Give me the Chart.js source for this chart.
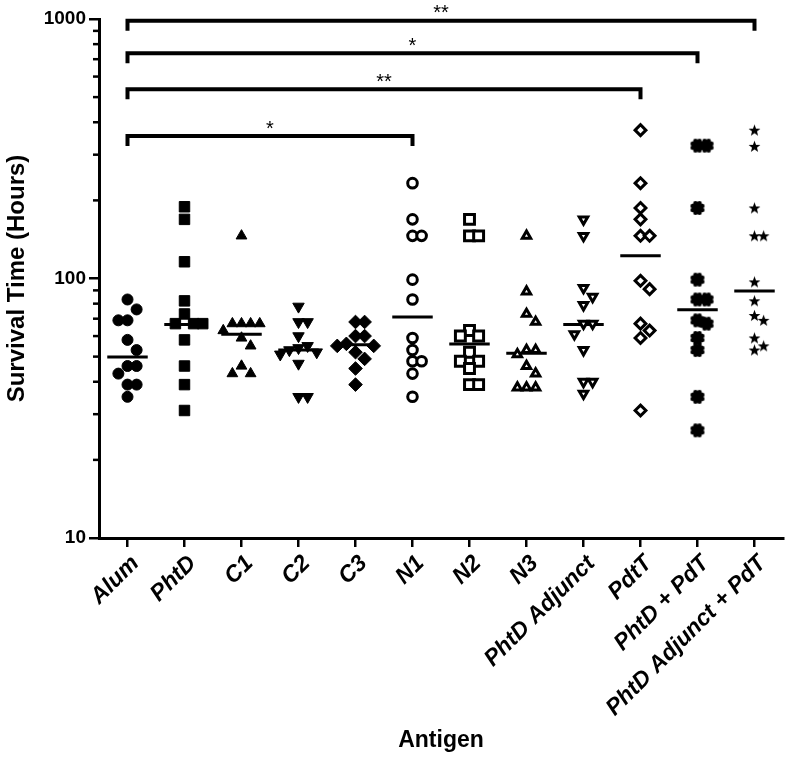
<!DOCTYPE html>
<html><head><meta charset="utf-8">
<script src="https://cdn.jsdelivr.net/npm/chart.js@4"></script>
<style>html,body{margin:0;padding:0;background:#fff;}</style>
</head><body>
<canvas id="c" width="793" height="758" style="display:block;width:793px;height:758px"></canvas>
<script>
const categories = ['Alum','PhtD','C1','C2','C3','N1','N2','N3','PhtD Adjunct','PdtT','PhtD + PdT','PhtD Adjunct + PdT'];

const alum      = [83, 76, 69, 69, 58, 53, 46, 46, 43, 39, 39, 35];
const phtD      = [189, 169, 116, 82, 73, 67, 67, 67, 58, 46, 39, 31];
const c1        = [146, 67, 67, 67, 67, 63, 59, 55, 46, 43, 43];
const c2        = [78, 68, 68, 60, 55, 54, 53, 52, 51, 47, 35, 35];
const c3        = [68, 68, 60, 60, 56, 55, 55, 52, 49, 45, 39];
const n1        = [233, 169, 146, 146, 99, 83, 59, 53, 48, 48, 43, 35];
const n2        = [169, 146, 146, 63, 60, 60, 52, 48, 48, 45, 39, 39];
const n3        = [146, 89, 73, 68, 53, 53, 51, 46, 43, 38, 38, 38];
const phtDAdj   = [169, 146, 92, 85, 79, 67, 67, 61, 53, 40, 40, 36];
const pdtT      = [373, 233, 187, 169, 146, 146, 98, 91, 67, 63, 59, 31];
const phtDPdT   = [325, 325, 187, 99, 83, 83, 69, 67, 59, 53, 35, 26];
const phtDAdjPdT= [373, 323, 187, 146, 146, 97, 82, 72, 69, 59, 55, 53];

const medians = [49.8, 66.5, 61, 53, 55.6, 71, 55.9, 51.5, 66.5, 122.5, 75.7, 89.6];

const yTickLabels = [10, 100, 1000];
const yMinorTicks = [20, 30, 40, 50, 60, 70, 80, 90, 200, 300, 400, 500, 600, 700, 800, 900];

const bracketTargets = ['N1', 'PdtT', 'PhtD + PdT', 'PhtD Adjunct + PdT'];
const bracketLevels  = [354, 536, 738, 985];
const bracketLabels  = ['*', '**', '*', '**'];

const groups = [alum, phtD, c1, c2, c3, n1, n2, n3, phtDAdj, pdtT, phtDPdT, phtDAdjPdT];

// ---- custom markers ----
function makeBurst() {
  const cv = document.createElement('canvas'); cv.width = 16; cv.height = 16;
  const g = cv.getContext('2d'); g.fillStyle = '#000';
  g.beginPath(); g.arc(8, 8, 4.2, 0, Math.PI * 2); g.fill();
  for (let i = 0; i < 8; i++) {
    const a = i * Math.PI / 4 + Math.PI / 8;
    g.beginPath(); g.arc(8 + Math.cos(a) * 5.2, 8 + Math.sin(a) * 5.2, 2.3, 0, Math.PI * 2); g.fill();
  }
  return cv;
}
function makeStar() {
  const cv = document.createElement('canvas'); cv.width = 13; cv.height = 13;
  const g = cv.getContext('2d'); g.fillStyle = '#000'; g.beginPath();
  for (let i = 0; i < 10; i++) {
    const r = i % 2 === 0 ? 6.2 : 2.6;
    const a = -Math.PI / 2 + i * Math.PI / 5;
    const px = 6.5 + Math.cos(a) * r, py = 7 + Math.sin(a) * r;
    if (i === 0) g.moveTo(px, py); else g.lineTo(px, py);
  }
  g.closePath(); g.fill();
  return cv;
}
const burst = makeBurst();
const star = makeStar();

const styles = [
  {ps: 'circle',   r: 5.5, fill: true},
  {ps: 'rect',     r: 7.4, fill: true},
  {ps: 'triangle', r: 6.2, fill: true},
  {ps: 'triangle', r: 6.6, fill: true, rot: 180},
  {ps: 'rectRot',  r: 6.8, fill: true},
  {ps: 'circle',   r: 4.8, fill: false},
  {ps: 'rect',     r: 7.0, fill: false},
  {ps: 'triangle', r: 4.8, fill: false},
  {ps: 'triangle', r: 4.9, fill: false, rot: 180},
  {ps: 'rectRot',  r: 5.4, fill: false},
  {ps: burst,      r: 8,   fill: true, img: true},
  {ps: star,       r: 6,   fill: true, img: true}
];

// simple column-scatter (beeswarm) spreading of overlapping points
const SLOT = 0.16, THR = 0.043;
function swarm(values, idx) {
  const sorted = values.slice().sort((a, b) => b - a);
  const placed = [];
  const order = [0, 1, -1, 2, -2, 3, -3];
  return sorted.map(v => {
    const lv = Math.log10(v);
    const k = order.find(s => !placed.some(p => p.k === s && Math.abs(p.lv - lv) < THR));
    placed.push({k, lv});
    return {x: idx + k * SLOT, y: v};
  });
}

const datasets = groups.map((vals, i) => {
  const s = styles[i];
  return {
    type: 'scatter',
    data: swarm(vals, i),
    pointStyle: s.ps,
    pointRadius: s.r,
    pointRotation: s.rot || 0,
    pointBackgroundColor: s.fill ? '#000' : '#fff',
    pointBorderColor: '#000',
    pointBorderWidth: s.img ? 0 : (s.fill ? 1 : 3),
    order: 0
  };
});

const medianData = [];
medians.forEach((m, i) => {
  medianData.push({x: i - 0.355, y: m}, {x: i + 0.355, y: m}, {x: i + 0.4, y: null});
});
datasets.push({
  type: 'line', data: medianData, showLine: true, spanGaps: false,
  borderColor: '#000', borderWidth: 3, pointRadius: 0, fill: false, order: 1
});

const FONT = "'Liberation Sans', Arial, sans-serif";

const extras = {
  id: 'extras',
  afterDatasetsDraw(chart) {
    const {ctx, chartArea} = chart;
    const x = chart.scales.x, y = chart.scales.y;
    ctx.save();
    ctx.strokeStyle = '#000'; ctx.fillStyle = '#000';
    ctx.lineWidth = 2.5;
    yMinorTicks.forEach(v => {
      const py = y.getPixelForValue(v);
      ctx.beginPath(); ctx.moveTo(chartArea.left - 6, py); ctx.lineTo(chartArea.left, py); ctx.stroke();
    });
    ctx.lineWidth = 4; ctx.lineJoin = 'miter';
    const x0 = x.getPixelForValue(0);
    bracketTargets.forEach((t, i) => {
      const x1 = x.getPixelForValue(categories.indexOf(t));
      const py = y.getPixelForValue(bracketLevels[i]);
      ctx.beginPath();
      ctx.moveTo(x0, py + 10); ctx.lineTo(x0, py); ctx.lineTo(x1, py); ctx.lineTo(x1, py + 10);
      ctx.stroke();
      ctx.font = '20px ' + FONT; ctx.textAlign = 'center'; ctx.textBaseline = 'bottom';
      ctx.fillText(bracketLabels[i], (x0 + x1) / 2, py + 3);
    });
    ctx.restore();
  }
};

new Chart(document.getElementById('c'), {
  type: 'scatter',
  data: {datasets},
  plugins: [extras],
  options: {
    responsive: false, animation: false, devicePixelRatio: 1,
    layout: {padding: {top: 19, right: 2, bottom: 0, left: 0}},
    plugins: {legend: {display: false}, tooltip: {enabled: false}},
    scales: {
      x: {
        type: 'linear', min: -0.5, max: 11.5,
        afterBuildTicks: s => { s.ticks = categories.map((c, i) => ({value: i})); },
        afterFit: s => { s.height = 220; },
        ticks: {
          autoSkip: false, maxRotation: 45, minRotation: 45, padding: 3, labelOffset: 8, color: '#000',
          font: {family: FONT, size: 23, weight: 'bold', style: 'italic'},
          callback: v => categories[v]
        },
        grid: {drawOnChartArea: false, drawTicks: true, tickLength: 9, tickWidth: 2.5, tickColor: '#000', color: '#000', lineWidth: 2.5},
        border: {display: true, color: '#000', width: 3},
        title: {display: true, text: 'Antigen', color: '#000', font: {family: FONT, size: 23, weight: 'bold'}, padding: {top: 0, bottom: 4}}
      },
      y: {
        type: 'logarithmic', min: 10, max: 1000,
        afterBuildTicks: s => { s.ticks = yTickLabels.map(v => ({value: v})); },
        afterFit: s => { s.width = 99; },
        ticks: {
          autoSkip: false, padding: 3, color: '#000',
          font: {family: FONT, size: 19, weight: 'bold'},
          callback: v => yTickLabels.includes(v) ? String(v) : ''
        },
        grid: {drawOnChartArea: false, drawTicks: true, tickLength: 10, tickWidth: 2.5, tickColor: '#000', color: '#000', lineWidth: 2.5},
        border: {display: true, color: '#000', width: 3},
        title: {display: true, text: 'Survival Time (Hours)', color: '#000', font: {family: FONT, size: 24, weight: 'bold'}, padding: {top: 3, bottom: 0}}
      }
    }
  }
});
</script>
</body></html>
